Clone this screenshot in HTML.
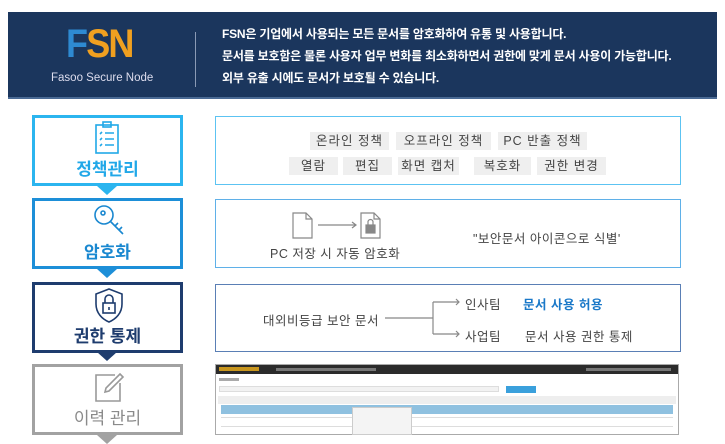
<!DOCTYPE html>
<html><head><meta charset="utf-8"><style>
*{margin:0;padding:0;box-sizing:border-box}
body{width:725px;height:443px;background:#fff;position:relative;overflow:hidden;font-family:"Liberation Sans","Noto Sans CJK KR",sans-serif}
.a{position:absolute}
.hd{left:8px;top:12px;width:709px;height:87px;background:#1b365d;border-bottom:2px solid #4a6a94}
.ht{color:#fff;font-size:12px;font-weight:bold;left:222px;white-space:nowrap;letter-spacing:-0.2px}
.lb{left:32px;width:151px;height:71px;border:3px solid;background:#fff;text-align:center}
.lb .t{position:absolute;left:0;right:0;top:37px;font-size:17px;font-weight:bold}
.tri{width:0;height:0;border-left:10px solid transparent;border-right:10px solid transparent;border-top:9px solid}
.rp{left:215px;width:466px;border:1.5px solid}
.tag{background:#efefef;height:18px;line-height:18px;font-size:12.5px;color:#444;text-align:center;top:0;letter-spacing:1px}
.tx{font-size:12.5px;color:#444;white-space:nowrap;letter-spacing:0.5px}
</style></head><body>
<div class="a hd"></div>
<div class="a" style="left:66px;top:24px;font-size:40px;font-weight:bold;letter-spacing:-2px;line-height:40px;transform:scaleX(0.9);transform-origin:left"><span style="color:#2e8ad2">F</span><span style="color:#f0a020">SN</span></div>
<div class="a" style="left:51px;top:72px;color:#dde;font-size:11.5px;white-space:nowrap">Fasoo Secure Node</div>
<div class="a" style="left:195px;top:32px;width:1px;height:55px;background:#8a9ab5"></div>
<div class="a ht" style="top:25px">FSN은 기업에서 사용되는 모든 문서를 암호화하여 유통 및 사용합니다.</div>
<div class="a ht" style="top:47px">문서를 보호함은 물론 사용자 업무 변화를 최소화하면서 권한에 맞게 문서 사용이 가능합니다.</div>
<div class="a ht" style="top:69px">외부 유출 시에도 문서가 보호될 수 있습니다.</div>

<div class="a lb" style="top:115px;border-color:#2bb5ef;color:#21a8e8"><svg class="a" style="left:58px;top:3px" width="30" height="34" viewBox="0 0 30 34" fill="none" stroke="#21a8e8" stroke-width="1.6"><rect x="3" y="4" width="22" height="28"/><rect x="10" y="1" width="8" height="5"/><path d="M7 13l2 -2M12 12h9M7 19l2-2M12 18h9M7 25l2-2M12 24h9"/></svg><div class="t">정책관리</div></div>
<div class="a tri" style="left:97px;top:186px;border-top-color:#2bb5ef"></div>
<div class="a lb" style="top:198px;border-color:#1d8fd8;color:#1a88d0"><svg class="a" style="left:58px;top:3px" width="34" height="34" viewBox="0 0 34 34" fill="none" stroke="#1a88d0" stroke-width="1.6"><circle cx="11" cy="11" r="9"/><circle cx="10" cy="9" r="2"/><path d="M17 17l13 13M22 22l3-3M26 26l3-3"/></svg><div class="t">암호화</div></div>
<div class="a tri" style="left:97px;top:269px;border-top-color:#1d8fd8"></div>
<div class="a lb" style="top:282px;border-color:#1e3c6e;color:#1e3c6e"><svg class="a" style="left:58px;top:2px" width="32" height="36" viewBox="0 0 32 36" fill="none" stroke="#1e3c6e" stroke-width="1.6"><path d="M16 2l13 5v10c0 9-6 15-13 18C9 32 3 26 3 17V7z"/><rect x="10" y="16" width="12" height="10"/><path d="M12 16v-4a4 4 0 0 1 8 0v4M16 20v3"/></svg><div class="t">권한 통제</div></div>
<div class="a tri" style="left:97px;top:352px;border-top-color:#1e3c6e"></div>
<div class="a lb" style="top:364px;border-color:#a2a2a2;color:#8a8a8a"><svg class="a" style="left:58px;top:4px" width="32" height="32" viewBox="0 0 32 32" fill="none" stroke="#999" stroke-width="1.6"><path d="M22 4H3v26h24V12"/><path d="M27 3l3 3-14 14-4 1 1-4z"/></svg><div class="t" style="font-weight:normal">이력 관리</div></div>
<div class="a tri" style="left:97px;top:435px;border-top-color:#a2a2a2"></div>

<div class="a rp" style="top:116px;height:69px;border-color:#5cc3f2"></div>
<div class="a tag" style="left:310px;top:132px;width:79px">온라인 정책</div>
<div class="a tag" style="left:396px;top:132px;width:95px">오프라인 정책</div>
<div class="a tag" style="left:498px;top:132px;width:89px">PC 반출 정책</div>
<div class="a tag" style="left:289px;top:157px;width:49px">열람</div>
<div class="a tag" style="left:343px;top:157px;width:49px">편집</div>
<div class="a tag" style="left:398px;top:157px;width:61px">화면 캡처</div>
<div class="a tag" style="left:474px;top:157px;width:57px">복호화</div>
<div class="a tag" style="left:537px;top:157px;width:69px">권한 변경</div>

<div class="a rp" style="top:199px;height:69px;border-color:#5fb0e8"></div>
<svg class="a" style="left:290px;top:210px" width="100" height="30" fill="none" stroke="#888" stroke-width="1.2"><path d="M3 3h13l6 6v19H3z M16 3v6h6"/><path d="M28 15h38M62 12l4 3-4 3"/><path d="M71 3h13l6 6v19H71z M84 3v6h6"/><rect x="76" y="15" width="9" height="8" fill="#888"/><path d="M78 15v-3a2.5 2.5 0 0 1 5 0v3"/></svg>
<div class="a tx" style="left:270px;top:243px">PC 저장 시 자동 암호화</div>
<div class="a tx" style="left:473px;top:228px">"보안문서 아이콘으로 식별'</div>

<div class="a rp" style="top:284px;height:68px;border-color:#5a7fb5"></div>
<div class="a tx" style="left:263px;top:310px">대외비등급 보안 문서</div>
<svg class="a" style="left:380px;top:296px" width="90" height="45" fill="none" stroke="#888" stroke-width="1.2"><path d="M5 22h48M53 6v32M53 6h26M53 38h26M76 3l3 3-3 3M76 35l3 3-3 3"/></svg>
<div class="a tx" style="left:465px;top:294px">인사팀</div>
<div class="a tx" style="left:523px;top:294px;color:#1a78c8;font-weight:bold">문서 사용 허용</div>
<div class="a tx" style="left:465px;top:326px">사업팀</div>
<div class="a tx" style="left:525px;top:326px">문서 사용 권한 통제</div>

<div class="a" style="left:215px;top:364px;width:464px;height:71px;border:1px solid #aaa;background:#fff">
<div class="a" style="left:0;top:0;width:462px;height:9px;background:#2b2b2b"></div>
<div class="a" style="left:3px;top:2px;width:40px;height:4px;background:#c8961e"></div>
<div class="a" style="left:60px;top:3px;width:100px;height:3px;background:#777"></div>
<div class="a" style="left:370px;top:3px;width:85px;height:3px;background:#777"></div>
<div class="a" style="left:3px;top:13px;width:20px;height:3px;background:#aaa"></div>
<div class="a" style="left:3px;top:21px;width:280px;height:6px;background:#f2f2f2;border:1px solid #ddd"></div>
<div class="a" style="left:290px;top:21px;width:30px;height:7px;background:#3aa0dc"></div>
<div class="a" style="left:2px;top:31px;width:458px;height:8px;background:#eee"></div>
<div class="a" style="left:5px;top:40px;width:452px;height:9px;background:#8fc1e0"></div>
<div class="a" style="left:5px;top:52px;width:452px;height:1px;background:#ddd"></div>
<div class="a" style="left:5px;top:61px;width:452px;height:1px;background:#ddd"></div>
<div class="a" style="left:136px;top:42px;width:60px;height:28px;background:#f4f4f4;border:1px solid #ccc"></div>
</div>
</body></html>
